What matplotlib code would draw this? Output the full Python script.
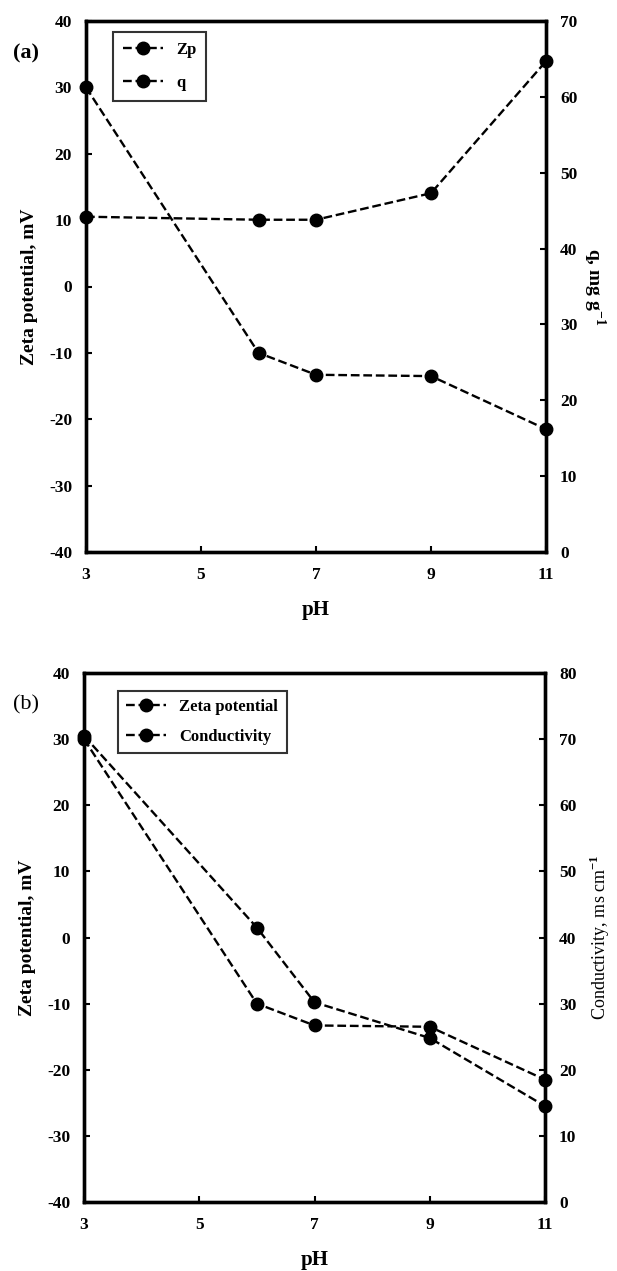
import matplotlib
matplotlib.use("Agg")
import matplotlib.pyplot as plt

plt.rcParams['font.family'] = ['Liberation Serif', 'DejaVu Serif']
plt.rcParams['font.weight'] = 'bold'
plt.rcParams['axes.unicode_minus'] = False
plt.rcParams['mathtext.fontset'] = 'custom'
plt.rcParams['mathtext.rm'] = 'Liberation Serif'
plt.rcParams['mathtext.bf'] = 'Liberation Serif:bold'

# data
ph = [3, 6, 7, 9, 11]
zeta = [30, -10, -13.3, -13.5, -21.5]
q = [44.2, 43.8, 43.8, 47.3, 64.7]
cond = [70.5, 41.5, 30.2, 24.8, 14.5]

ph_ticks = [3, 5, 7, 9, 11]
zeta_ticks = [-40, -30, -20, -10, 0, 10, 20, 30, 40]
q_ticks = [0, 10, 20, 30, 40, 50, 60, 70]
cond_ticks = [0, 10, 20, 30, 40, 50, 60, 70, 80]

W, H = 617, 1271


def px_axes(left, top, right, bottom):
    return [left / W, 1 - bottom / H, (right - left) / W, (bottom - top) / H]


def style_axis(ax):
    for s in ax.spines.values():
        s.set_linewidth(2.4)
    ax.tick_params(direction='in', width=1.5, length=4, labelsize=12.5, pad=10)
    for lab in ax.get_xticklabels() + ax.get_yticklabels():
        lab.set_fontweight('bold')


fig = plt.figure(figsize=(W / 100, H / 100), dpi=100)

line_kw = dict(color='black', ls='--', lw=1.7, marker='o', ms=9, clip_on=False, zorder=5)

# panel (a)
ax1 = fig.add_axes(px_axes(86, 21, 546, 552))
ax1.plot(ph, zeta, label='Zp', **line_kw)
ax1b = ax1.twinx()
ax1b.plot(ph, q, label='q', **line_kw)
ax1.set_xlim(3, 11)
ax1.set_ylim(-40, 40)
ax1b.set_ylim(0, 70)
ax1.set_xticks(ph_ticks)
ax1.set_yticks(zeta_ticks)
ax1b.set_yticks(q_ticks)
style_axis(ax1)
style_axis(ax1b)
ax1.tick_params(axis='x', pad=11)
ax1.set_xlabel('pH', fontsize=15, fontweight='bold', labelpad=12)
ax1.set_ylabel('Zeta potential, mV', fontsize=14, fontweight='bold', labelpad=8)
ax1b.set_ylabel('q, mg g$^{\\mathbf{-1}}$', fontsize=14, fontweight='bold',
                rotation=270, labelpad=22)
h1, l1 = ax1.get_legend_handles_labels()
h2, l2 = ax1b.get_legend_handles_labels()
leg = ax1b.legend(h1 + h2, l1 + l2, loc='upper left', bbox_to_anchor=(0.04, 0.995),
                  frameon=True, fancybox=False, edgecolor='black', handlelength=2.4,
                  prop={'weight': 'bold', 'size': 12}, borderpad=0.6, labelspacing=1.0)
leg.get_frame().set_linewidth(1.5)

# panel (b)
ax2 = fig.add_axes(px_axes(84, 673, 545, 1202))
ax2.plot(ph, zeta, label='Zeta potential', **line_kw)
ax2b = ax2.twinx()
ax2b.plot(ph, cond, label='Conductivity', **line_kw)
ax2.set_xlim(3, 11)
ax2.set_ylim(-40, 40)
ax2b.set_ylim(0, 80)
ax2.set_xticks(ph_ticks)
ax2.set_yticks(zeta_ticks)
ax2b.set_yticks(cond_ticks)
style_axis(ax2)
style_axis(ax2b)
ax2.tick_params(axis='x', pad=11)
ax2.set_xlabel('pH', fontsize=15, fontweight='bold', labelpad=12)
ax2.set_ylabel('Zeta potential, mV', fontsize=14, fontweight='bold', labelpad=8)
ax2b.set_ylabel('Conductivity, ms cm$^{\\mathrm{-1}}$', fontsize=13,
                fontweight='normal', labelpad=8)
h1, l1 = ax2.get_legend_handles_labels()
h2, l2 = ax2b.get_legend_handles_labels()
leg = ax2b.legend(h1 + h2, l1 + l2, loc='upper left', bbox_to_anchor=(0.055, 0.982),
                  frameon=True, fancybox=False, edgecolor='black', handlelength=2.4,
                  prop={'weight': 'bold', 'size': 12}, borderpad=0.5, labelspacing=0.8)
leg.get_frame().set_linewidth(1.5)

fig.text(26 / W, 1 - 53 / H, '(a)', fontsize=16, fontweight='bold', va='center', ha='center')
fig.text(26 / W, 1 - 705 / H, '(b)', fontsize=16, fontweight='normal', va='center', ha='center')

fig.savefig('out.png', dpi=100)
